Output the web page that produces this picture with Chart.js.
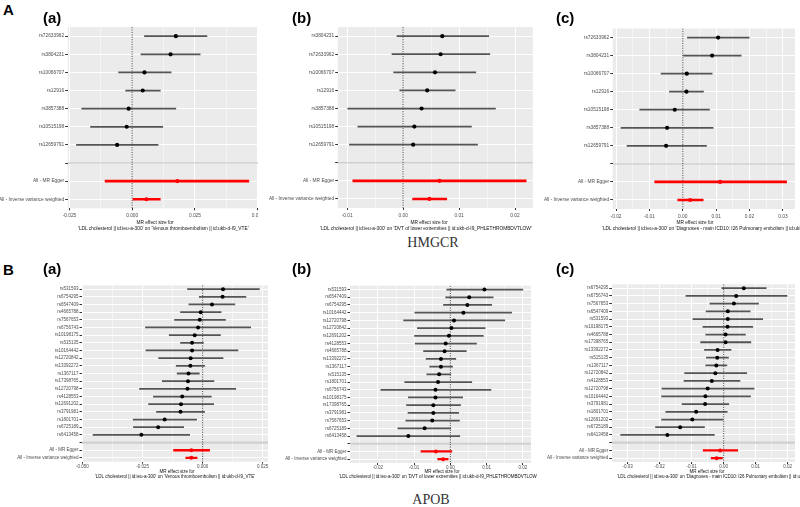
<!DOCTYPE html>
<html>
<head>
<meta charset="utf-8">
<script src="https://cdn.jsdelivr.net/npm/chart.js@4.4.0/dist/chart.umd.min.js"></script>
<style>
  html, body { margin: 0; padding: 0; background: #fff; }
  body { position: relative; width: 800px; height: 507px; overflow: hidden; font-family: "Liberation Sans", Arial, sans-serif; }
  .panel { position: absolute; overflow: hidden; }
  .panel canvas { position: absolute; }
  .xt { position: absolute; white-space: nowrap; color: #111; line-height: 1; }
  .xt.c { transform-origin: center center; transform: translate(-50%, -50%) scale(0.5); }
  .xt.l { transform-origin: left center; transform: translate(0, -50%) scale(0.5); }
  .tag { position: absolute; font-weight: bold; font-size: 15px; line-height: 15px; color: #000; }
  .gene { position: absolute; font-family: "Liberation Serif", "DejaVu Serif", serif; font-size: 14px; color: #333; transform: translate(-50%, -50%); }
</style>
</head>
<body>
<div class="tag" style="left:3px;top:1.5px">A</div>
<div class="tag" style="left:3px;top:261.5px">B</div>
<div class="gene" style="left:433px;top:243px">HMGCR</div>
<div class="gene" style="left:431px;top:500px">APOB</div>
<script>
// rows below the gap in every panel
const methodLabels = ['All - MR Egger', 'All - Inverse variance weighted'];

const exposureText = "'LDL cholesterol || id:ieu-a-300'";
const outcomeVte = "'Venous thromboembolism || id:ukb-d-I9_VTE'";
const outcomeDvt = "'DVT of lower extremities || id:ukb-d-I9_PHLETHROMBDVTLOW'";
const outcomePe = "'Diagnoses - main ICD10: I26 Pulmonary embolism || id:ukb-d-I26'";

// HMGCR -> VTE
const hvSnps = ['rs72633962', 'rs3804231', 'rs10066707', 'rs12916', 'rs3857388', 'rs10515198', 'rs12659791'];
const hvB  = [0.0174, 0.0153, 0.0049, 0.0042, -0.0014, -0.0022, -0.0060];
const hvLo = [0.0049, 0.0035, -0.0054, -0.0026, -0.0201, -0.0166, -0.0222];
const hvHi = [0.0298, 0.0271, 0.0155, 0.0112, 0.0174, 0.0122, 0.0103];
const hvMB  = [0.0180, 0.0057];
const hvMLo = [-0.0108, 0.0003];
const hvMHi = [0.0465, 0.0112];
const hvTicks = [-0.025, 0, 0.025, 0.05];
const hvTickLabels = ['-0.025', '0.000', '0.025', '0.050'];

// HMGCR -> DVT
const hdSnps = ['rs3804231', 'rs72633962', 'rs10066707', 'rs12916', 'rs3857388', 'rs10515198', 'rs12659791'];
const hdB  = [0.0070, 0.0067, 0.0057, 0.0043, 0.0033, 0.0020, 0.0018];
const hdLo = [-0.0011, -0.0020, -0.0017, -0.0006, -0.0099, -0.0081, -0.0096];
const hdHi = [0.0153, 0.0155, 0.0130, 0.0093, 0.0165, 0.0122, 0.0133];
const hdMB  = [0.0065, 0.0047];
const hdMLo = [-0.0090, 0.0017];
const hdMHi = [0.0220, 0.0078];
const hdTicks = [-0.01, 0, 0.01, 0.02];
const hdTickLabels = ['-0.01', '0.00', '0.01', '0.02'];

// HMGCR -> PE
const hpSnps = ['rs72633962', 'rs3804231', 'rs10066707', 'rs12916', 'rs10515198', 'rs3857388', 'rs12659791'];
const hpB  = [0.0106, 0.0088, 0.0012, 0.0011, -0.0024, -0.0047, -0.0050];
const hpLo = [0.0014, 0.0002, -0.0065, -0.0040, -0.0129, -0.0185, -0.0167];
const hpHi = [0.0199, 0.0175, 0.0088, 0.0062, 0.0080, 0.0091, 0.0071];
const hpMB  = [0.0112, 0.0022];
const hpMLo = [-0.0084, -0.0015];
const hpMHi = [0.0311, 0.0061];
const hpTicks = [-0.02, -0.01, 0, 0.01, 0.02, 0.03];
const hpTickLabels = ['-0.02', '-0.01', '0.00', '0.01', '0.02', '0.03'];

// APOB -> VTE
const avSnps = ['rs531593', 'rs6754295', 'rs6547409', 'rs4665788', 'rs7567653', 'rs6756743', 'rs10198175', 'rs515135',
  'rs10164442', 'rs12720842', 'rs13392272', 'rs1367117', 'rs17398765', 'rs12720798', 'rs4128553', 'rs12691202',
  'rs3791981', 'rs1801701', 'rs6725189', 'rs6413458'];
const avB  = [0.0085, 0.0083, 0.0039, -0.0008, -0.0012, -0.0019, -0.0033, -0.0044, -0.0044, -0.0050,
  -0.0051, -0.0059, -0.0061, -0.0063, -0.0085, -0.0090, -0.0092, -0.0158, -0.0185, -0.0255];
const avLo = [-0.0063, -0.0014, -0.0057, -0.0092, -0.0117, -0.0238, -0.0139, -0.0092, -0.0236, -0.0183,
  -0.0110, -0.0106, -0.0168, -0.0263, -0.0205, -0.0225, -0.0192, -0.0289, -0.0288, -0.0456];
const avHi = [0.0236, 0.0180, 0.0134, 0.0077, 0.0095, 0.0200, 0.0074, 0.0003, 0.0147, 0.0085,
  0.0008, -0.0014, 0.0047, 0.0138, 0.0036, 0.0046, 0.0008, -0.0025, -0.0079, -0.0054];
const avMB  = [-0.0047, -0.0047];
const avMLo = [-0.0121, -0.0070];
const avMHi = [0.0029, -0.0023];
const avTicks = [-0.05, -0.025, 0, 0.025];
const avTickLabels = ['-0.050', '-0.025', '0.000', '0.025'];

// APOB -> DVT
const adSnps = ['rs531593', 'rs6547409', 'rs6754295', 'rs10164442', 'rs12720798', 'rs12720842', 'rs12691202', 'rs4128553',
  'rs4665788', 'rs13392272', 'rs1367117', 'rs515135', 'rs1801701', 'rs6756743', 'rs10198175', 'rs17398765',
  'rs3791981', 'rs7567653', 'rs6725189', 'rs6413458'];
const adB  = [0.0094, 0.0052, 0.0047, 0.0036, 0.0010, 0.0003, -0.0004, -0.0013, -0.0016, -0.0026,
  -0.0026, -0.0031, -0.0034, -0.0041, -0.0041, -0.0047, -0.0047, -0.0050, -0.0071, -0.0116];
const adLo = [-0.0010, -0.0013, -0.0019, -0.0098, -0.0129, -0.0091, -0.0099, -0.0097, -0.0074, -0.0067,
  -0.0057, -0.0065, -0.0126, -0.0192, -0.0116, -0.0121, -0.0117, -0.0123, -0.0145, -0.0258];
const adHi = [0.0200, 0.0118, 0.0114, 0.0169, 0.0150, 0.0096, 0.0091, 0.0072, 0.0044, 0.0015,
  0.0006, 0.0001, 0.0059, 0.0112, 0.0034, 0.0028, 0.0023, 0.0025, 0.0001, 0.0026];
const adMB  = [-0.0040, -0.0020];
const adMLo = [-0.0081, -0.0035];
const adMHi = [0.0004, -0.0006];
const adTicks = [-0.02, -0.01, 0, 0.01, 0.02];
const adTickLabels = ['-0.02', '-0.01', '0.00', '0.01', '0.02'];

// APOB -> PE
const apSnps = ['rs6754295', 'rs6756743', 'rs7567653', 'rs6547409', 'rs531593', 'rs10198175', 'rs4665788', 'rs17398765',
  'rs13392272', 'rs515135', 'rs1367117', 'rs12720842', 'rs4128553', 'rs12720798', 'rs10164442', 'rs3791981',
  'rs1801701', 'rs12691202', 'rs6725189', 'rs6413458'];
const apB  = [0.0063, 0.0039, 0.0032, 0.0013, 0.0013, 0.0012, 0.0006, 0.0006, -0.0019, -0.0020,
  -0.0023, -0.0026, -0.0037, -0.0050, -0.0057, -0.0058, -0.0086, -0.0098, -0.0136, -0.0176];
const apLo = [-0.0006, -0.0118, -0.0043, -0.0055, -0.0096, -0.0065, -0.0056, -0.0072, -0.0060, -0.0054,
  -0.0056, -0.0122, -0.0124, -0.0193, -0.0194, -0.0130, -0.0181, -0.0194, -0.0213, -0.0322];
const apHi = [0.0133, 0.0198, 0.0109, 0.0083, 0.0122, 0.0091, 0.0068, 0.0085, 0.0023, 0.0015,
  0.0010, 0.0072, 0.0051, 0.0095, 0.0084, 0.0016, 0.0011, 0.0000, -0.0060, -0.0029];
const apMB  = [-0.0011, -0.0022];
const apMLo = [-0.0064, -0.0039];
const apMHi = [0.0044, -0.0004];
const apTicks = [-0.03, -0.02, -0.01, 0, 0.01, 0.02];
const apTickLabels = ['-0.03', '-0.02', '-0.01', '0.00', '0.01', '0.02'];

// draws the grey panel, the dotted zero line and the gap line
const panelDecor = {
  id: 'panelDecor',
  beforeDraw(chart) {
    const a = chart.chartArea, ctx = chart.ctx;
    ctx.save();
    ctx.fillStyle = '#EBEBEB';
    ctx.fillRect(a.left, a.top, a.right - a.left, a.bottom - a.top);
    ctx.restore();
  },
  beforeDatasetsDraw(chart, args, opts) {
    const a = chart.chartArea, ctx = chart.ctx;
    const x0 = chart.scales.x.getPixelForValue(0);
    const ySep = chart.scales.y.getPixelForValue(opts.sepIndex);
    ctx.save();
    ctx.beginPath();
    ctx.rect(a.left, a.top, a.right - a.left, a.bottom - a.top);
    ctx.clip();
    ctx.strokeStyle = opts.sepColor;
    ctx.lineWidth = opts.sepWidth;
    ctx.beginPath();
    ctx.moveTo(a.left, ySep);
    ctx.lineTo(a.right, ySep);
    ctx.stroke();
    ctx.strokeStyle = '#222';
    ctx.lineWidth = 0.8;
    ctx.setLineDash([1.2, 1.2]);
    ctx.beginPath();
    ctx.moveTo(x0, a.top);
    ctx.lineTo(x0, a.bottom);
    ctx.stroke();
    ctx.restore();
  }
};

function addTitle(box, g, text, x, y, cls) {
  const el = document.createElement('div');
  el.className = 'xt ' + cls;
  el.textContent = text;
  el.style.fontSize = (g.font * 2) + 'px';
  el.style.left = (x - g.clip[0]) + 'px';
  el.style.top = (y - g.clip[1]) + 'px';
  box.appendChild(el);
}

function drawForest(p) {
  const g = p.geo;
  const n = p.snps.length;
  const labels = p.snps.concat([''], methodLabels);
  const snpBars = labels.map((l, i) => i < n ? [p.lo[i], p.hi[i]] : null);
  const methodBars = labels.map((l, i) => i > n ? [p.mLo[i - n - 1], p.mHi[i - n - 1]] : null);
  const snpPts = p.snps.map((s, i) => ({ x: p.b[i], y: s }));
  const methodPts = methodLabels.map((m, i) => ({ x: p.mB[i], y: m }));

  // major ticks plus ggplot-like minor lines halfway between
  const step = p.ticks[1] - p.ticks[0];
  const allTicks = p.ticks.slice();
  for (let i = -1; i < p.ticks.length; i++) {
    const m = p.ticks[0] + (i + 0.5) * step;
    if (m > g.x[0] && m < g.x[1]) allTicks.push(m);
  }
  allTicks.sort((a, b) => a - b);
  const majorIndex = v => p.ticks.findIndex(t => Math.abs(t - v) < step * 1e-6);

  const box = document.createElement('div');
  box.className = 'panel';
  box.style.left = g.clip[0] + 'px';
  box.style.top = g.clip[1] + 'px';
  box.style.width = (g.clip[2] - g.clip[0]) + 'px';
  box.style.height = (g.clip[3] - g.clip[1]) + 'px';
  document.body.appendChild(box);

  const cLeft = Math.floor(g.L) - 74;
  const cTop = Math.floor(g.T) - 2;
  const cW = Math.ceil(g.R) - cLeft;
  const cH = Math.ceil(g.B) + 14 - cTop;
  const yW = g.L - cLeft;
  const xH = cH - (g.B - cTop);

  const canvas = document.createElement('canvas');
  canvas.width = cW;
  canvas.height = cH;
  canvas.style.width = cW + 'px';
  canvas.style.height = cH + 'px';
  canvas.style.left = (cLeft - g.clip[0]) + 'px';
  canvas.style.top = (cTop - g.clip[1]) + 'px';
  box.appendChild(canvas);

  const font = { family: '"Liberation Sans", Arial, sans-serif', size: g.font };

  new Chart(canvas.getContext('2d'), {
    type: 'bar',
    data: {
      labels: labels,
      datasets: [
        { type: 'scatter', data: snpPts, indexAxis: 'y', pointRadius: g.dot, pointBackgroundColor: '#000',
          pointBorderWidth: 0, pointHoverRadius: g.dot },
        { type: 'scatter', data: methodPts, indexAxis: 'y', pointRadius: g.dot, pointBackgroundColor: '#FF0000',
          pointBorderWidth: 0, pointHoverRadius: g.dot },
        { data: snpBars, backgroundColor: '#555555', barThickness: 1.1, grouped: false, borderWidth: 0 },
        { data: methodBars, backgroundColor: '#FF0000', barThickness: g.redW, grouped: false, borderWidth: 0 }
      ]
    },
    options: {
      indexAxis: 'y',
      responsive: false,
      animation: false,
      devicePixelRatio: 1,
      events: [],
      layout: { padding: { left: 0, bottom: 0, top: g.T - cTop, right: cW - (g.R - cLeft) } },
      plugins: {
        legend: { display: false },
        tooltip: { enabled: false },
        panelDecor: { sepIndex: n, sepColor: g.sepColor, sepWidth: g.sepWidth }
      },
      scales: {
        x: {
          type: 'linear',
          min: g.x[0],
          max: g.x[1],
          afterBuildTicks: s => { s.ticks = allTicks.map(v => ({ value: v })); },
          afterFit: s => { s.height = xH; s.paddingLeft = 0; s.paddingRight = 0; },
          border: { display: false },
          grid: {
            color: '#FFFFFF',
            lineWidth: c => majorIndex(c.tick.value) >= 0 ? 1 : 0.5,
            tickLength: 2,
            tickColor: c => majorIndex(c.tick.value) >= 0 ? '#333333' : 'rgba(0,0,0,0)'
          },
          ticks: {
            autoSkip: false,
            maxRotation: 0,
            padding: g.tickPad,
            color: '#4D4D4D',
            font: font,
            callback: v => { const k = majorIndex(v); return k >= 0 ? p.tickLabels[k] : ''; }
          }
        },
        y: {
          type: 'category',
          offset: true,
          afterFit: s => { s.width = yW; s.paddingTop = 0; s.paddingBottom = 0; },
          border: { display: false },
          grid: { offset: false, color: '#FFFFFF', lineWidth: 1, tickLength: 2.5, tickColor: '#333333' },
          ticks: { autoSkip: false, padding: 1, color: '#4D4D4D', font: font }
        }
      }
    },
    plugins: [panelDecor]
  });

  addTitle(box, g, 'MR effect size for', g.t1[0], g.t1[1], 'c');
  addTitle(box, g, exposureText + ' on ' + p.outcome, g.t2[0], g.t2[1], 'l');

  const tag = document.createElement('div');
  tag.className = 'tag';
  tag.textContent = p.tag;
  tag.style.left = g.tag[0] + 'px';
  tag.style.top = g.tag[1] + 'px';
  document.body.appendChild(tag);
}

// panel geometry: panel rectangle (L,T,R,B), axis range, clip box, text spots
const geoA = { font: 4.8, tickPad: 2.8, dot: 2.1, redW: 2, sepColor: '#BEBEBE', sepWidth: 1 };
const geoB = { font: 4.5, tickPad: 0, dot: 2, redW: 1.7, sepColor: '#D0D0D0', sepWidth: 2.2 };

const panels = [
  { tag: '(a)', outcome: outcomeVte, snps: hvSnps, b: hvB, lo: hvLo, hi: hvHi, mB: hvMB, mLo: hvMLo, mHi: hvMHi,
    ticks: hvTicks, tickLabels: hvTickLabels,
    geo: Object.assign({}, geoA, { L: 67.7, T: 27, R: 261, B: 208.3, x: [-0.0257, 0.0505], clip: [0, 0, 258, 248],
      t1: [155, 221.7], t2: [78, 227.7], tag: [43, 10.2] }) },
  { tag: '(b)', outcome: outcomeDvt, snps: hdSnps, b: hdB, lo: hdLo, hi: hdHi, mB: hdMB, mLo: hdMLo, mHi: hdMHi,
    ticks: hdTicks, tickLabels: hdTickLabels,
    geo: Object.assign({}, geoA, { L: 337.7, T: 27, R: 534.2, B: 208, x: [-0.0117, 0.0232], clip: [258, 0, 540, 248],
      t1: [429, 221.7], t2: [320, 227.7], tag: [292, 10.2] }) },
  { tag: '(c)', outcome: outcomePe, snps: hpSnps, b: hpB, lo: hpLo, hi: hpHi, mB: hpMB, mLo: hpMLo, mHi: hpMHi,
    ticks: hpTicks, tickLabels: hpTickLabels,
    geo: Object.assign({}, geoA, { L: 612.7, T: 28.5, R: 796.2, B: 209, x: [-0.021, 0.0336], clip: [540, 0, 800, 248],
      t1: [695, 221.7], t2: [601.7, 227.7], tag: [556, 10.2] }) },
  { tag: '(a)', outcome: outcomeVte, snps: avSnps, b: avB, lo: avLo, hi: avHi, mB: avMB, mLo: avMLo, mHi: avMHi,
    ticks: avTicks, tickLabels: avTickLabels,
    geo: Object.assign({}, geoB, { L: 82, T: 285.3, R: 270, B: 461.7, x: [-0.0502, 0.0272], clip: [0, 252, 268, 490],
      t1: [176.5, 471.7], t2: [95, 476.7], tag: [43, 261.3] }) },
  { tag: '(b)', outcome: outcomeDvt, snps: adSnps, b: adB, lo: adLo, hi: adHi, mB: adMB, mLo: adMLo, mHi: adMHi,
    ticks: adTicks, tickLabels: adTickLabels,
    geo: Object.assign({}, geoB, { L: 350, T: 285.7, R: 532.7, B: 463, x: [-0.0277, 0.02225], clip: [268, 252, 537, 490],
      t1: [441.5, 471.7], t2: [339, 476.7], tag: [292, 261.3] }) },
  { tag: '(c)', outcome: outcomePe, snps: apSnps, b: apB, lo: apLo, hi: apHi, mB: apMB, mLo: apMLo, mHi: apMHi,
    ticks: apTicks, tickLabels: apTickLabels,
    geo: Object.assign({}, geoB, { L: 611.7, T: 284.3, R: 796.7, B: 462, x: [-0.035, 0.0223], clip: [540, 252, 800, 490],
      t1: [707, 471.7], t2: [616.7, 476.7], tag: [556, 261.3] }) }
];

panels.forEach(drawForest);
</script>
</body>
</html>
